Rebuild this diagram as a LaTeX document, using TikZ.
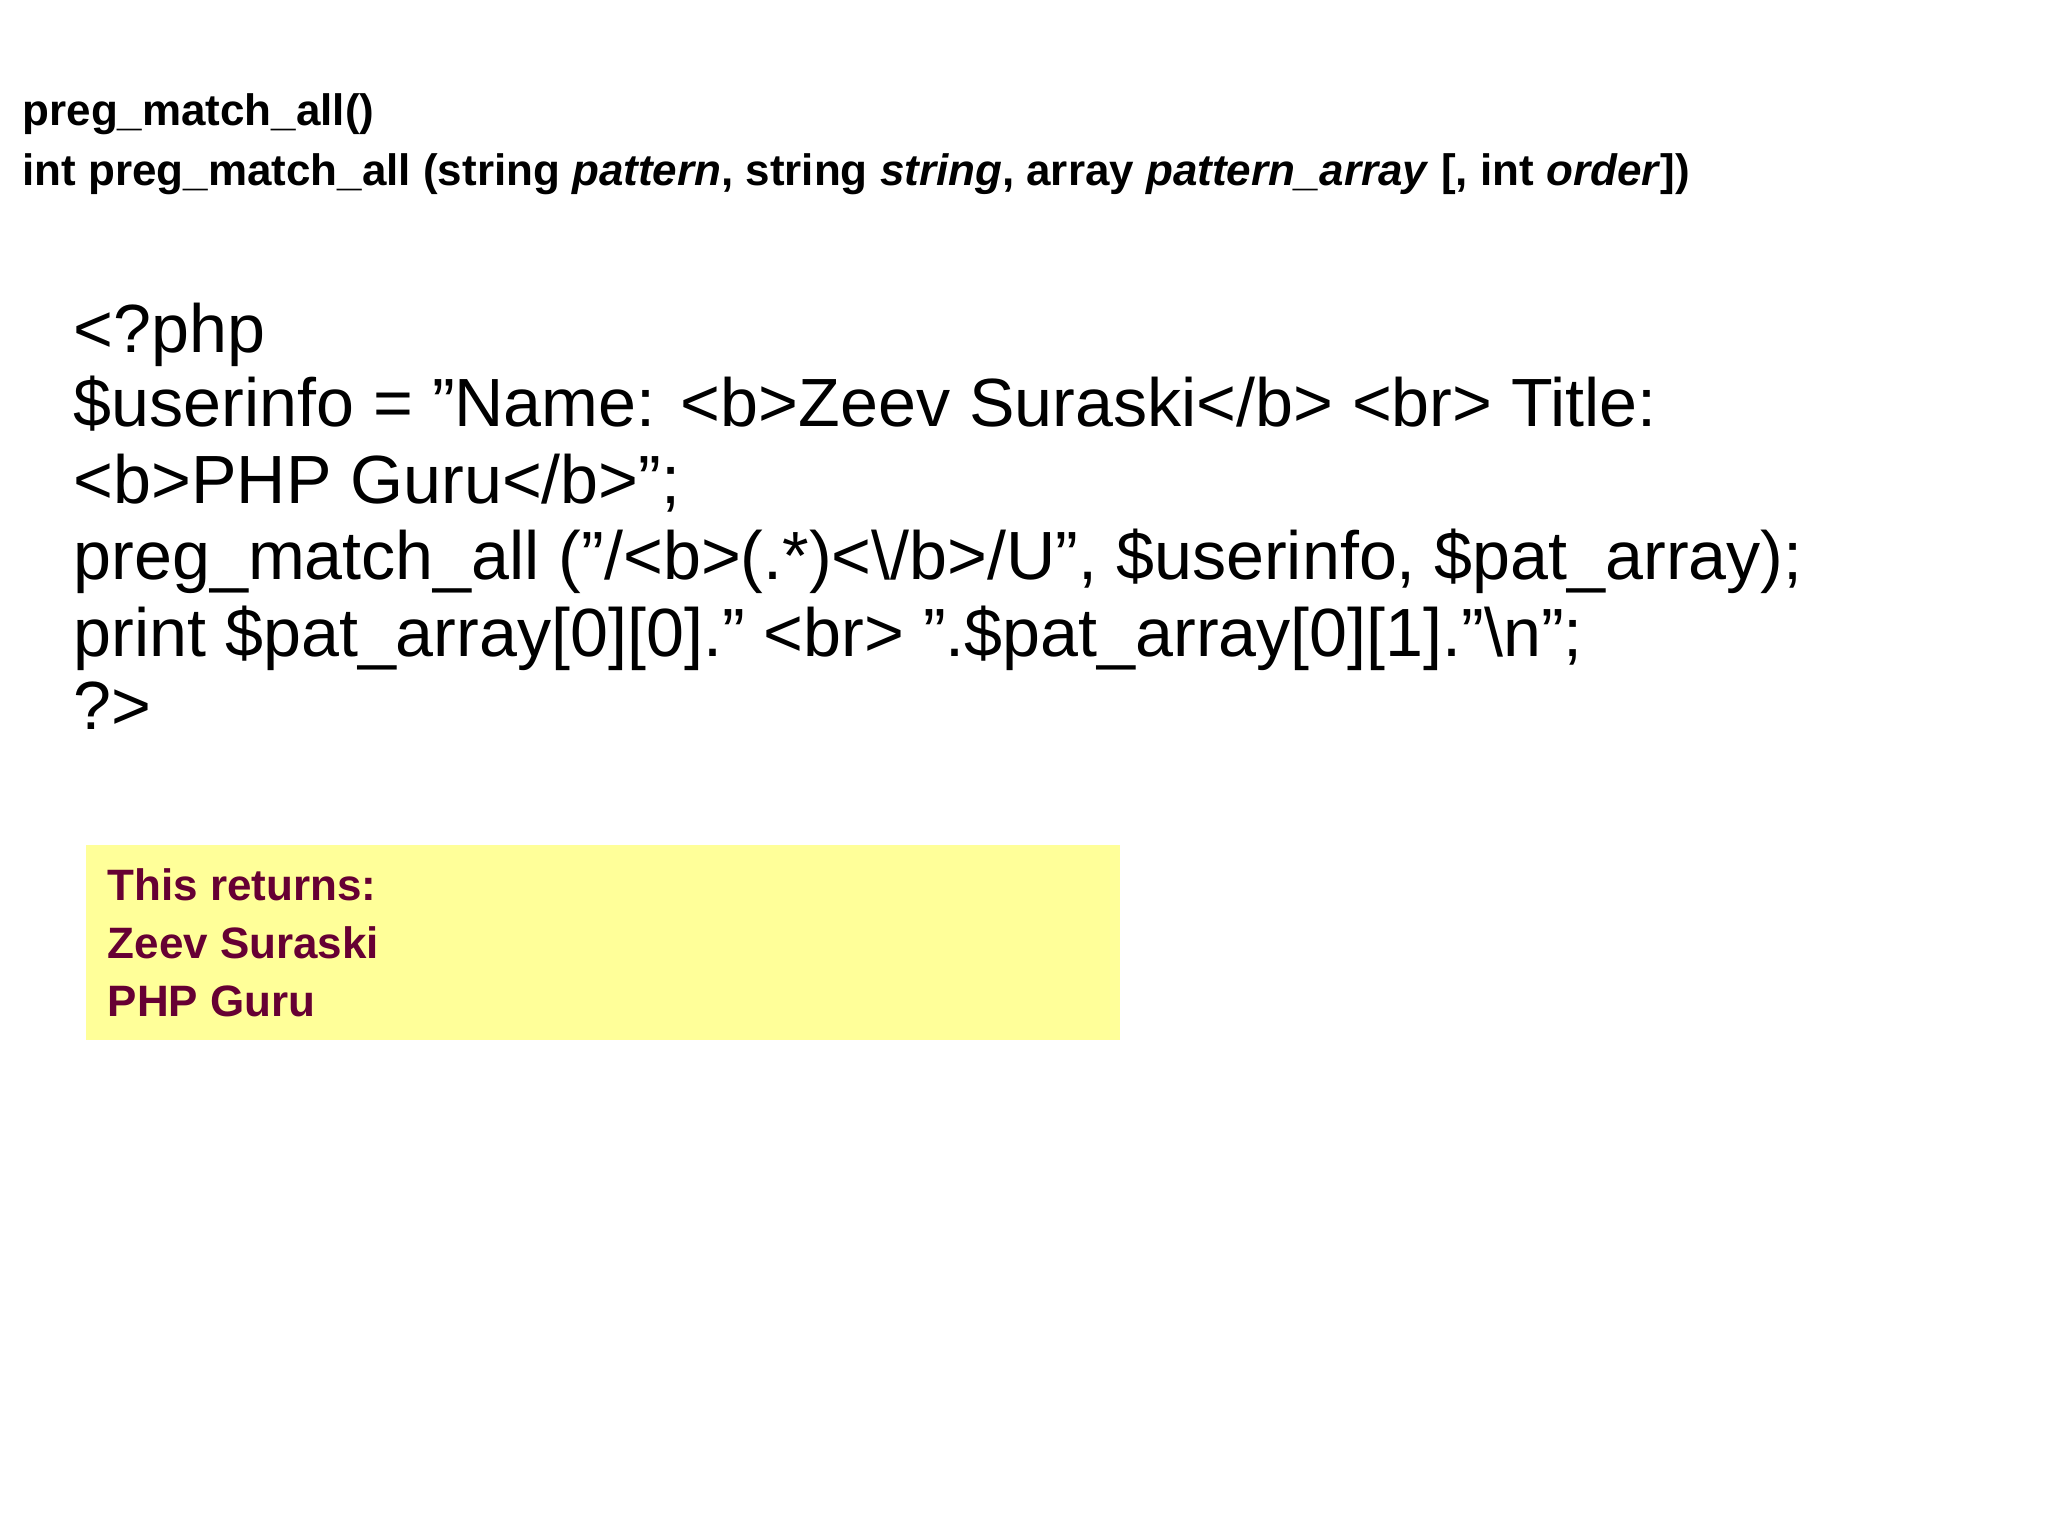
\documentclass[tikz,border=0pt]{standalone}
\usepackage{fontspec}
\setmainfont{Liberation Sans}
\begin{document}
\begin{tikzpicture}[x=0.01cm,y=-0.01cm,
  every node/.style={anchor=base west,inner sep=0pt},
  title/.style={font=\fontsize{12.5pt}{15pt}\selectfont\bfseries},
  code/.style={font=\fontsize{19.4pt}{23pt}\selectfont},
  ret/.style={font=\fontsize{12.5pt}{15pt}\selectfont\bfseries,text=retc}]
\definecolor{retc}{HTML}{660033}
\definecolor{boxc}{HTML}{FFFF99}
\useasboundingbox (0,0) rectangle (2048,1536);
\node[title] (t1) at (22,125) {preg\_match\_all()};
\node[title] (t2) at (22,185) {int preg\_match\_all (string \textit{pattern}, string \textit{string}, array \textit{pattern\_array} [, int \textit{order}])};
\node[code] (c1) at (73,352) {<?php};
\node[code] (c2) at (73,426) {\$userinfo = "Name: <b>Zeev Suraski</b> <br> Title:};
\node[code] (c3) at (73,503) {<b>PHP Guru</b>";};
\node[code] (c4) at (73,579) {preg\_match\_all ("/<b>(.*)<\textbackslash/b>/U", \$userinfo, \$pat\_array);};
\node[code] (c5) at (73,656) {print \$pat\_array[0][0]." <br> ".\$pat\_array[0][1]."\textbackslash n";};
\node[code] (c6) at (73,729) {?>};
\fill[boxc] (86,845) rectangle (1120,1040);
\node[ret] (r1) at (107,900) {This returns:};
\node[ret] (r2) at (107,958) {Zeev Suraski};
\node[ret] (r3) at (107,1016) {PHP Guru};
\end{tikzpicture}
\end{document}
